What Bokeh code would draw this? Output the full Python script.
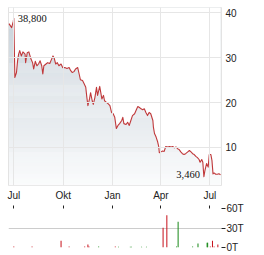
import numpy as np
import pandas as pd
from datetime import datetime
from bokeh.plotting import figure
from bokeh.layouts import column
from bokeh.models import Range1d, FixedTicker, CustomJSTickFormatter, ColumnDataSource
from bokeh.embed import file_html
from bokeh.resources import INLINE

# ---------------- data ----------------
price_dates = [
    "2024-06-22", "2024-06-27", "2024-06-30", "2024-07-01", "2024-07-03", "2024-07-06",
    "2024-07-08", "2024-07-10", "2024-07-12", "2024-07-15", "2024-07-18", "2024-07-22",
    "2024-07-23", "2024-07-26", "2024-07-29", "2024-08-02", "2024-08-05", "2024-08-07",
    "2024-08-10", "2024-08-13", "2024-08-16", "2024-08-19", "2024-08-22", "2024-08-24",
    "2024-08-26", "2024-08-30", "2024-09-02", "2024-09-06", "2024-09-08", "2024-09-12",
    "2024-09-14", "2024-09-17", "2024-09-20", "2024-09-23", "2024-09-27", "2024-09-30",
    "2024-10-04", "2024-10-08", "2024-10-12", "2024-10-15", "2024-10-18", "2024-10-21",
    "2024-10-24", "2024-10-28", "2024-10-31", "2024-11-02", "2024-11-06", "2024-11-09",
    "2024-11-12", "2024-11-14", "2024-11-16", "2024-11-19", "2024-11-21", "2024-11-24",
    "2024-11-26", "2024-11-29", "2024-12-02", "2024-12-04", "2024-12-08", "2024-12-10",
    "2024-12-12", "2024-12-15", "2024-12-17", "2024-12-21", "2024-12-24", "2024-12-27",
    "2024-12-30", "2025-01-02", "2025-01-05", "2025-01-08", "2025-01-11", "2025-01-14",
    "2025-01-18", "2025-01-20", "2025-01-22", "2025-01-26", "2025-01-29", "2025-02-01",
    "2025-02-04", "2025-02-07", "2025-02-11", "2025-02-15", "2025-02-17", "2025-02-20",
    "2025-02-23", "2025-02-26", "2025-03-01", "2025-03-04", "2025-03-07", "2025-03-10",
    "2025-03-13", "2025-03-17", "2025-03-18", "2025-03-20", "2025-03-23", "2025-03-26",
    "2025-03-28", "2025-03-29", "2025-04-01", "2025-04-04", "2025-04-07", "2025-04-10",
    "2025-04-14", "2025-04-17", "2025-04-20", "2025-04-23", "2025-04-26", "2025-04-29",
    "2025-05-02", "2025-05-05", "2025-05-08", "2025-05-11", "2025-05-14", "2025-05-17",
    "2025-05-21", "2025-05-24", "2025-05-27", "2025-05-30", "2025-06-02", "2025-06-05",
    "2025-06-08", "2025-06-11", "2025-06-13", "2025-06-16", "2025-06-18", "2025-06-20",
    "2025-06-22", "2025-06-25", "2025-06-28", "2025-06-30", "2025-07-03", "2025-07-05",
    "2025-07-07", "2025-07-09", "2025-07-12", "2025-07-15", "2025-07-18", "2025-07-21",
]
prices = [
    37.6, 36.7, 38.1, 38.8, 25.6, 26.7,
    29.3, 30.8, 31.6, 30.4, 31.3, 30.8,
    28.9, 31.1, 31.3, 29.7, 28.9, 27.5,
    29.2, 28.2, 28.6, 29.3, 28.2, 26.4,
    28.2, 28.6, 28.9, 28.7, 29.3, 30.4,
    30.0, 28.6, 28.9, 28.2, 28.6, 27.8,
    27.8, 27.6, 27.8, 27.1, 26.7, 26.9,
    27.5, 27.8, 26.2, 25.1, 24.9, 24.2,
    23.4, 21.2, 19.3, 20.8, 22.2, 20.4,
    19.6, 21.1, 23.4, 21.6, 23.6, 22.2,
    20.8, 21.6, 20.4, 20.0, 19.7, 19.3,
    17.8, 17.5, 16.7, 14.2, 14.9, 15.3,
    16.0, 16.7, 15.3, 15.1, 15.6, 14.9,
    16.0, 17.1, 17.5, 18.6, 19.1, 18.9,
    18.6, 18.4, 18.6, 17.8, 17.1, 17.8,
    17.5, 16.0, 14.5, 13.1, 12.3, 11.2,
    10.1, 8.8, 9.0, 9.2, 9.1, 10.2,
    10.1, 10.2, 10.1, 10.2, 9.9, 10.1,
    9.7, 9.5, 9.0, 8.6, 8.4, 8.6,
    9.0, 9.3, 9.0, 8.6, 8.4, 8.0,
    7.7, 7.3, 6.7, 7.3, 6.7, 3.46,
    4.9, 6.4, 5.6, 8.4, 8.4, 7.1,
    4.1, 4.3, 4.0, 4.0, 4.1, 3.9,
]

vol_dates = [
    "2024-07-01", "2024-08-04", "2024-09-27", "2024-10-12", "2024-11-10", "2024-11-16",
    "2024-11-18", "2024-12-06", "2025-01-06", "2025-01-12", "2025-02-03", "2025-02-05",
    "2025-02-24", "2025-03-05", "2025-04-05", "2025-04-12", "2025-04-30", "2025-05-03",
    "2025-05-30", "2025-06-09", "2025-06-26", "2025-06-27", "2025-07-02", "2025-07-06",
    "2025-07-09", "2025-07-16",
]
volumes = [  # thousands
    1.5, 1.5, 10.5, 1.5, 1.5, 4.5,
    1.5, 1.5, 1.5, 1.0, 1.0, 1.0,
    1.0, 1.0, 30.5, 49.5, 1.5, 39.5,
    1.5, 6.0, 7.5, 7.5, 1.5, 10.5,
    1.5, 4.5,
]
vol_dir = [  # "u" = up day, "d" = down day
    "d", "d", "d", "d", "d", "d",
    "d", "u", "d", "u", "u", "u",
    "u", "u", "d", "d", "u", "u",
    "u", "u", "u", "u", "d", "d",
    "d", "d",
]

price_ticks = [10, 20, 30, 40]
vol_ticks = [0, 30, 60]
month_ticks = ["2024-07-01", "2024-10-01", "2025-01-01", "2025-04-01", "2025-07-01"]
month_names = ["Jan", "Feb", "Mär", "Apr", "Mai", "Jun", "Jul", "Aug", "Sep", "Okt", "Nov", "Dez"]

# ---------------- styling ----------------
FONT = "Liberation Sans"
TXT = "#222222"
LINE_RED = "#c0393b"
UP = "#1a8a1a"
DOWN = "#c8141e"
Y0, Y1 = 1.5, 41.2

dates = pd.to_datetime(price_dates)
pr = np.array(prices)
x_range = Range1d(datetime(2024, 6, 21, 3), datetime(2025, 7, 22, 19))

def ms(s):
    return pd.Timestamp(s).value / 1e6

tick_ms = [ms(s) for s in month_ticks]
month_fmt = CustomJSTickFormatter(
    args=dict(names=month_names),
    code="return names[new Date(tick).getUTCMonth()];",
)

# ---------------- main price chart ----------------
p = figure(width=264, height=186, x_axis_type="datetime", x_range=x_range,
           y_range=Range1d(Y0, Y1), x_axis_location=None, y_axis_location="right",
           output_backend="svg", toolbar_location=None,
           min_border_left=8, min_border_right=43, min_border_top=7, min_border_bottom=1)
p.background_fill_color = "white"
p.border_fill_color = "white"
p.outline_line_color = "#e3e3e3"

# gradient fill under the line: vertical colour bands, then white mask above the line
N = 180
lv = np.linspace(Y0, Y1, N + 1)
top_c = np.array([199, 209, 217])
bot_c = np.array([249, 250, 251])
cols = []
for k in range(N):
    t = (0.5 * (lv[k] + lv[k + 1]) - Y0) / (Y1 - Y0)
    c = bot_c + (top_c - bot_c) * t
    cols.append("#%02x%02x%02x" % tuple(int(round(v)) for v in c))
p.quad(left=[dates[0]] * N, right=[dates[-1]] * N, bottom=lv[:-1], top=lv[1:] + 0.03,
       fill_color=cols, line_color=None)
p.varea(x=dates, y1=pr, y2=[Y1 + 5] * len(pr), fill_color="white")

p.line(dates, pr, line_color=LINE_RED, line_width=1.1, line_join="round", level="overlay")

imax = int(np.argmax(pr))
imin = int(np.argmin(pr))
fmt = lambda v: f"{v:.3f}".replace(".", ",")
p.text(x=[dates[imax]], y=[pr[imax]], text=[fmt(pr[imax])], x_offset=4, y_offset=0,
       text_align="left", text_baseline="middle", text_font=FONT,
       text_font_size="10.5px", text_color="#111111", level="overlay")
p.text(x=[dates[imin]], y=[pr[imin]], text=[fmt(pr[imin])], x_offset=-4, y_offset=-2,
       text_align="right", text_baseline="middle", text_font=FONT,
       text_font_size="10.5px", text_color="#111111", level="overlay")

p.xgrid.ticker = FixedTicker(ticks=tick_ms)
p.ygrid.ticker = FixedTicker(ticks=price_ticks)
for g in (p.xgrid[0], p.ygrid[0]):
    g.grid_line_color = "#e6e6e6"
    g.grid_line_width = 1
    g.level = "overlay"

ya = p.yaxis[0]
ya.ticker = FixedTicker(ticks=price_ticks)
ya.axis_line_color = None
ya.major_tick_line_color = None
ya.minor_tick_line_color = None
ya.major_tick_out = 0
ya.major_tick_in = 0
ya.major_label_standoff = 4
ya.major_label_text_font = FONT
ya.major_label_text_font_size = "10px"
ya.major_label_text_color = TXT

# ---------------- volume chart ----------------
v = figure(width=264, height=69, x_axis_type="datetime", x_range=x_range,
           y_range=Range1d(0, 60), x_axis_location="above", y_axis_location="right",
           output_backend="svg", toolbar_location=None,
           min_border_left=8, min_border_right=43, min_border_top=21, min_border_bottom=8)
v.outline_line_color = None
v.background_fill_color = "white"
v.border_fill_color = "white"

vsrc = ColumnDataSource(dict(
    x=pd.to_datetime(vol_dates), top=volumes,
    color=[UP if d == "u" else DOWN for d in vol_dir],
))
v.vbar(x="x", top="top", bottom=0, width=1.9 * 86400000, source=vsrc,
       fill_color="color", line_color=None)

v.xgrid.visible = False
v.ygrid.ticker = FixedTicker(ticks=vol_ticks)
v.ygrid.grid_line_color = "#cccccc"
v.ygrid.grid_line_width = 1

xa = v.xaxis[0]
xa.ticker = FixedTicker(ticks=tick_ms)
xa.formatter = month_fmt
xa.axis_line_color = None
xa.major_tick_in = 0
xa.major_tick_out = 3
xa.major_tick_line_color = "#222222"
xa.minor_tick_line_color = None
xa.major_label_standoff = 5
xa.major_label_text_font = FONT
xa.major_label_text_font_size = "10px"
xa.major_label_text_color = TXT

va = v.yaxis[0]
va.ticker = FixedTicker(ticks=vol_ticks)
va.formatter = CustomJSTickFormatter(code="return tick + 'T';")
va.axis_line_color = None
va.major_tick_in = 0
va.major_tick_out = 4
va.major_tick_line_color = "#222222"
va.minor_tick_line_color = None
va.major_label_standoff = 1
va.major_label_text_font = FONT
va.major_label_text_font_size = "10px"
va.major_label_text_color = TXT

layout = column(p, v, spacing=0)
open("out.html", "w").write(file_html(layout, INLINE))
